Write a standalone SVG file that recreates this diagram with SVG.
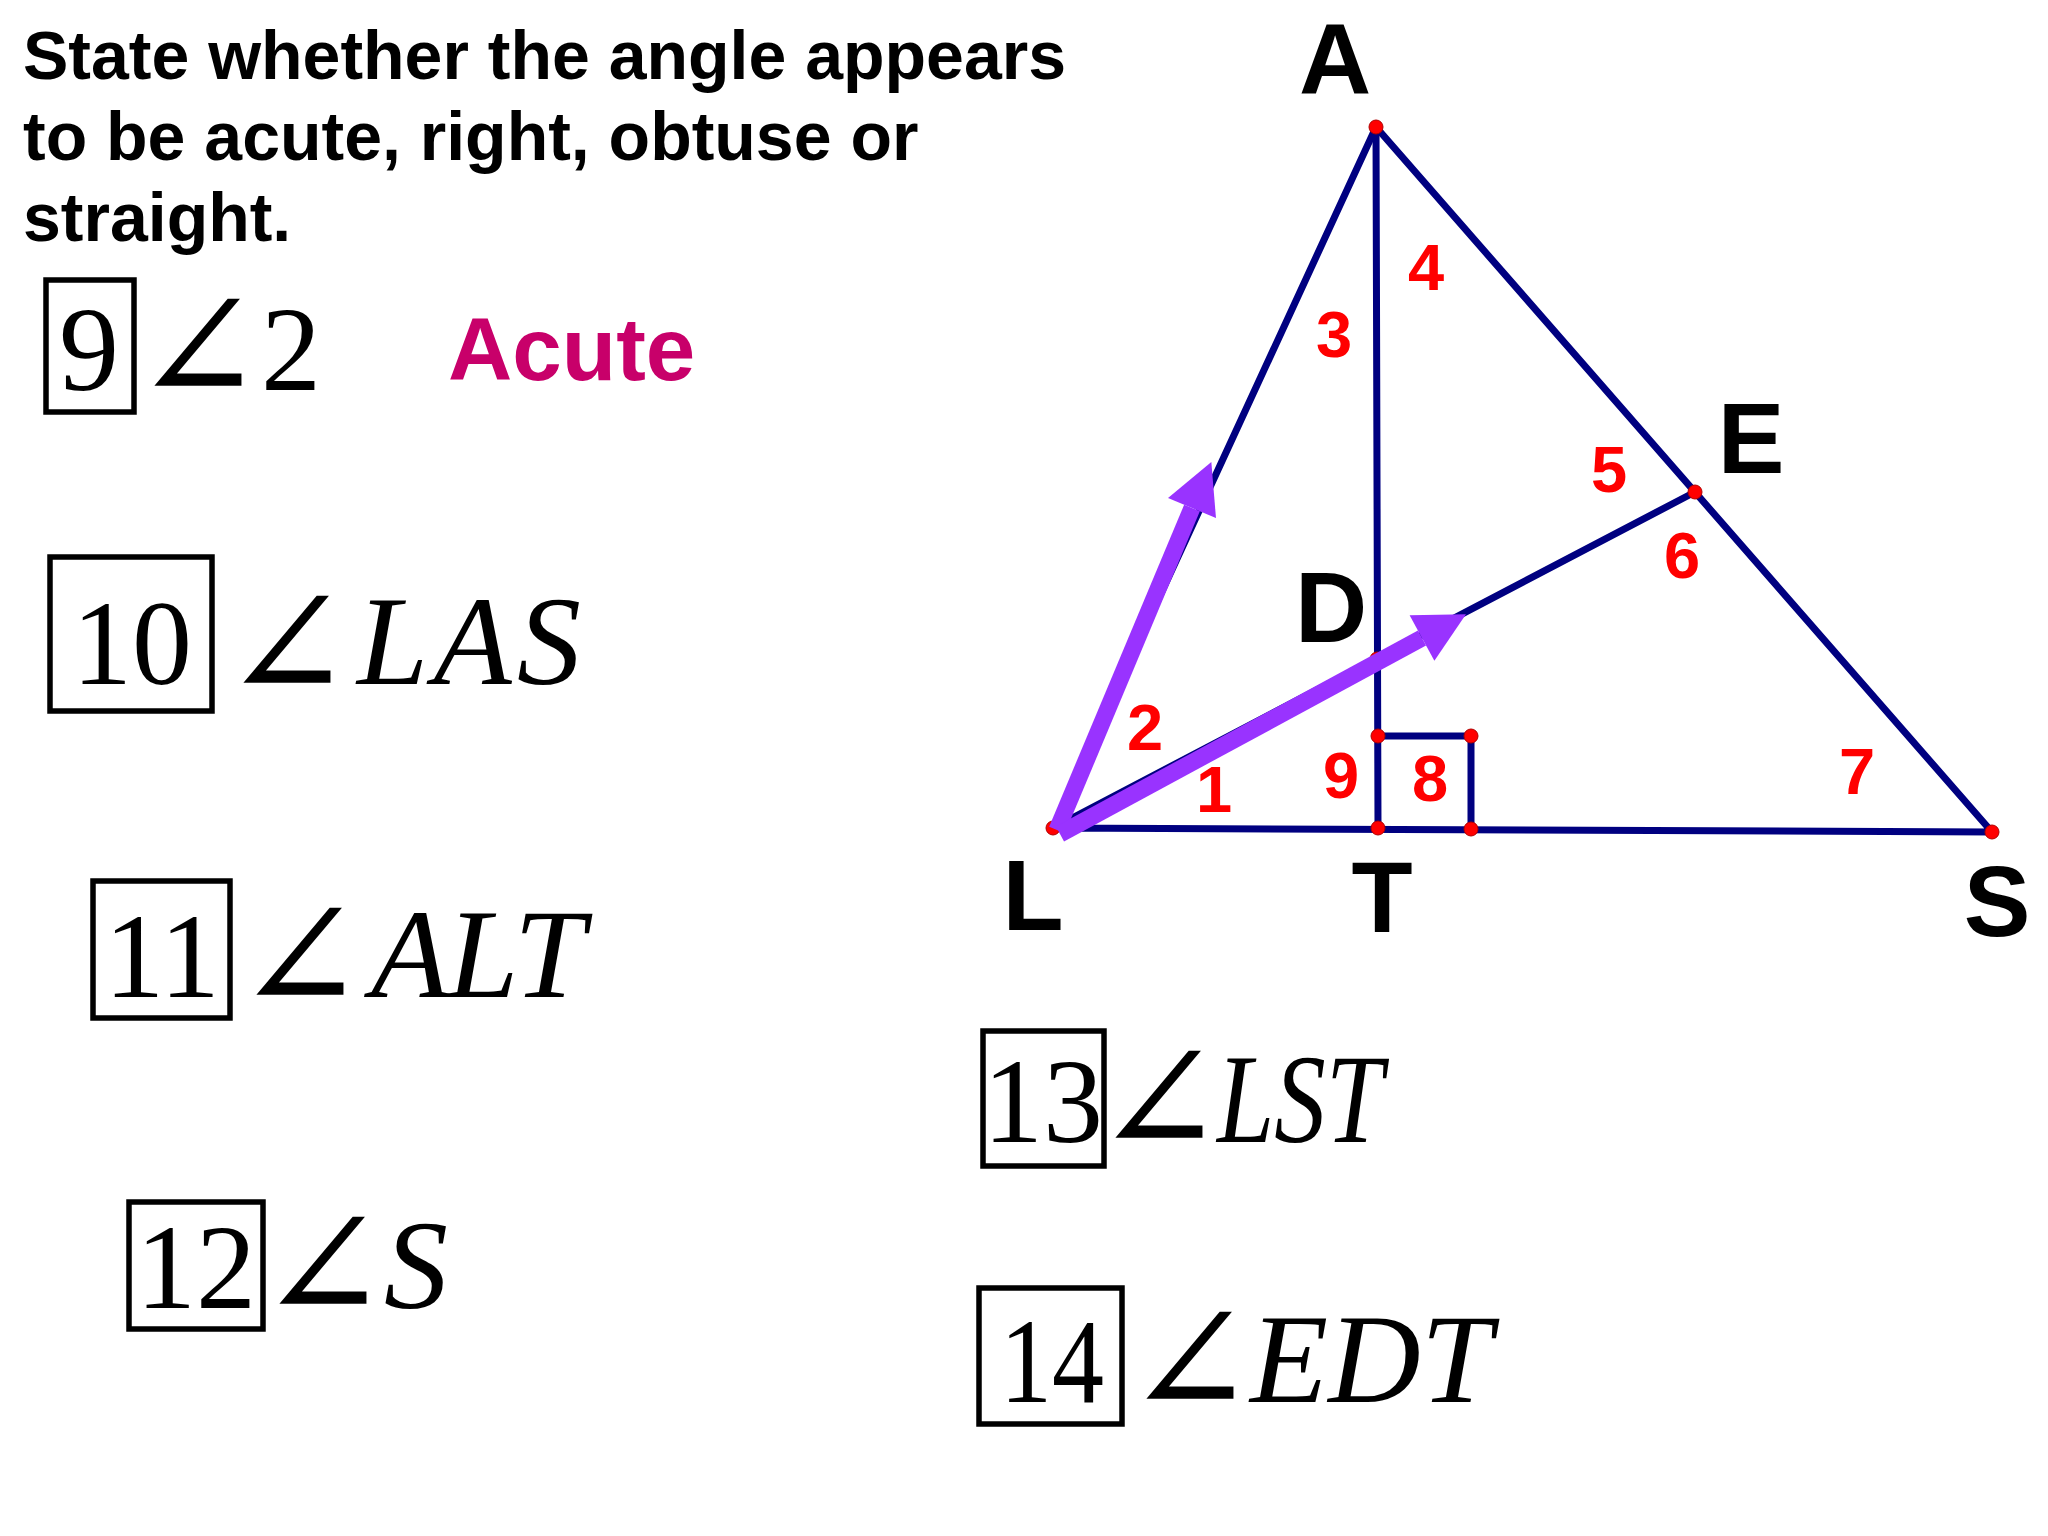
<svg xmlns="http://www.w3.org/2000/svg" width="2048" height="1536" viewBox="0 0 2048 1536">
<style>
.head{font-family:"Liberation Sans",Arial,sans-serif;font-weight:bold;font-size:68px;fill:#000}
.box{fill:none;stroke:#000;stroke-width:5.5}
.num{font-family:"Liberation Serif","Times New Roman",serif;font-size:120px;fill:#000;text-anchor:middle}
.ang{font-family:"DejaVu Serif","DejaVu Sans",serif;font-size:155px;fill:#000;text-anchor:middle}
.it{font-family:"Liberation Serif","Times New Roman",serif;font-style:italic;font-size:128px;fill:#000}
.vl{font-family:"Liberation Sans",Arial,sans-serif;font-weight:bold;font-size:100px;fill:#000;text-anchor:middle}
.rl{font-family:"Liberation Sans",Arial,sans-serif;font-weight:bold;font-size:65px;fill:#ff0000;text-anchor:middle}
.seg{stroke:#000080;stroke-width:7;fill:none;stroke-linecap:round;stroke-linejoin:round}
.dot{fill:#ff0000;stroke:#b00000;stroke-width:1}
.arr{stroke:#9933ff;stroke-width:17;fill:none}
</style>
<defs>
<marker id="ah" markerUnits="userSpaceOnUse" markerWidth="52" markerHeight="52" refX="0" refY="26" orient="auto" overflow="visible">
<path d="M0,0 L50,26 L0,52 z" fill="#9933ff"/>
</marker>
</defs>
<rect width="2048" height="1536" fill="#fff"/>

<g id="heading">
<text class="head" x="23" y="79">State whether the angle appears</text>
<text class="head" x="23" y="160">to be acute, right, obtuse or</text>
<text class="head" x="23" y="241">straight.</text>
</g>

<g id="q9">
<rect class="box" x="46" y="280" width="88" height="132"/>
<text class="num" x="89" y="390" font-size="112">9</text>
<text class="ang" x="198" y="401" font-size="138">∠</text>
<text class="num" x="291" y="390" font-size="112">2</text>
<text x="448" y="380" font-family="Liberation Sans,Arial,sans-serif" font-weight="bold" font-size="89" fill="#c8006a">Acute</text>
</g>

<g id="q10">
<rect class="box" x="50" y="557" width="162" height="154"/>
<text class="num" x="132" y="684" font-size="133">10</text>
<text class="ang" x="287" y="698" font-size="170">∠</text>
<text class="it" x="357" y="684" font-size="134" textLength="224">LAS</text>
</g>

<g id="q11">
<rect class="box" x="93" y="881" width="137" height="137"/>
<text class="num" x="162" y="997">11</text>
<text class="ang" x="300" y="1010" font-size="160">∠</text>
<text class="it" x="371" y="997" font-size="126" textLength="214">ALT</text>
</g>

<g id="q12">
<rect class="box" x="129" y="1202" width="134" height="127"/>
<text class="num" x="196" y="1308" font-size="114">12</text>
<text class="ang" x="323" y="1319" font-size="136">∠</text>
<text class="it" x="384" y="1308" font-size="120">S</text>
</g>

<g id="q13">
<rect class="box" x="983" y="1031" width="121" height="135"/>
<text class="num" x="1043" y="1142" font-size="117">13</text>
<text class="ang" x="1159" y="1153" font-size="133">∠</text>
<text class="it" x="1217" y="1142" font-size="118" textLength="166" lengthAdjust="spacingAndGlyphs">LST</text>
</g>

<g id="q14">
<rect class="box" x="979" y="1288" width="143" height="136"/>
<text class="num" x="1052" y="1402" font-size="118" textLength="104" lengthAdjust="spacingAndGlyphs">14</text>
<text class="ang" x="1190" y="1414" font-size="155">∠</text>
<text class="it" x="1250" y="1402" font-size="125">EDT</text>
</g>

<g id="connectors">
<polyline class="seg" points="1053,828 1376,127 1992,832 1053,828"/>
<line class="seg" x1="1376" y1="127" x2="1378" y2="828"/>
<line class="seg" x1="1053" y1="828" x2="1695" y2="492"/>
<polyline class="seg" points="1378,736 1471,736 1471,829"/>
</g>

<g id="points">
<circle class="dot" cx="1377" cy="659" r="7"/>
<circle class="dot" cx="1376" cy="127" r="7"/>
<circle class="dot" cx="1695" cy="492" r="7"/>
<circle class="dot" cx="1053" cy="828" r="7"/>
<circle class="dot" cx="1992" cy="832" r="7"/>
<circle class="dot" cx="1378" cy="828" r="7"/>
<circle class="dot" cx="1471" cy="829" r="7"/>
<circle class="dot" cx="1378" cy="736" r="7"/>
<circle class="dot" cx="1471" cy="736" r="7"/>
</g>

<g id="vectors">
<line class="arr" x1="1057" y1="830" x2="1192" y2="508" marker-end="url(#ah)"/>
<line class="arr" x1="1060" y1="834" x2="1422" y2="638" marker-end="url(#ah)"/>
</g>

<g id="vertex-labels">
<text class="vl" x="1335" y="94">A</text>
<text class="vl" x="1751" y="473">E</text>
<text class="vl" x="1331" y="642">D</text>
<text class="vl" x="1033" y="930">L</text>
<text class="vl" x="1382" y="932">T</text>
<text class="vl" x="1997" y="936">S</text>
</g>

<g id="angle-labels">
<text class="rl" x="1426" y="290">4</text>
<text class="rl" x="1334" y="357">3</text>
<text class="rl" x="1609" y="492">5</text>
<text class="rl" x="1682" y="578">6</text>
<text class="rl" x="1145" y="750">2</text>
<text class="rl" x="1214" y="812">1</text>
<text class="rl" x="1341" y="798">9</text>
<text class="rl" x="1430" y="801">8</text>
<text class="rl" x="1857" y="794">7</text>
</g>
</svg>
